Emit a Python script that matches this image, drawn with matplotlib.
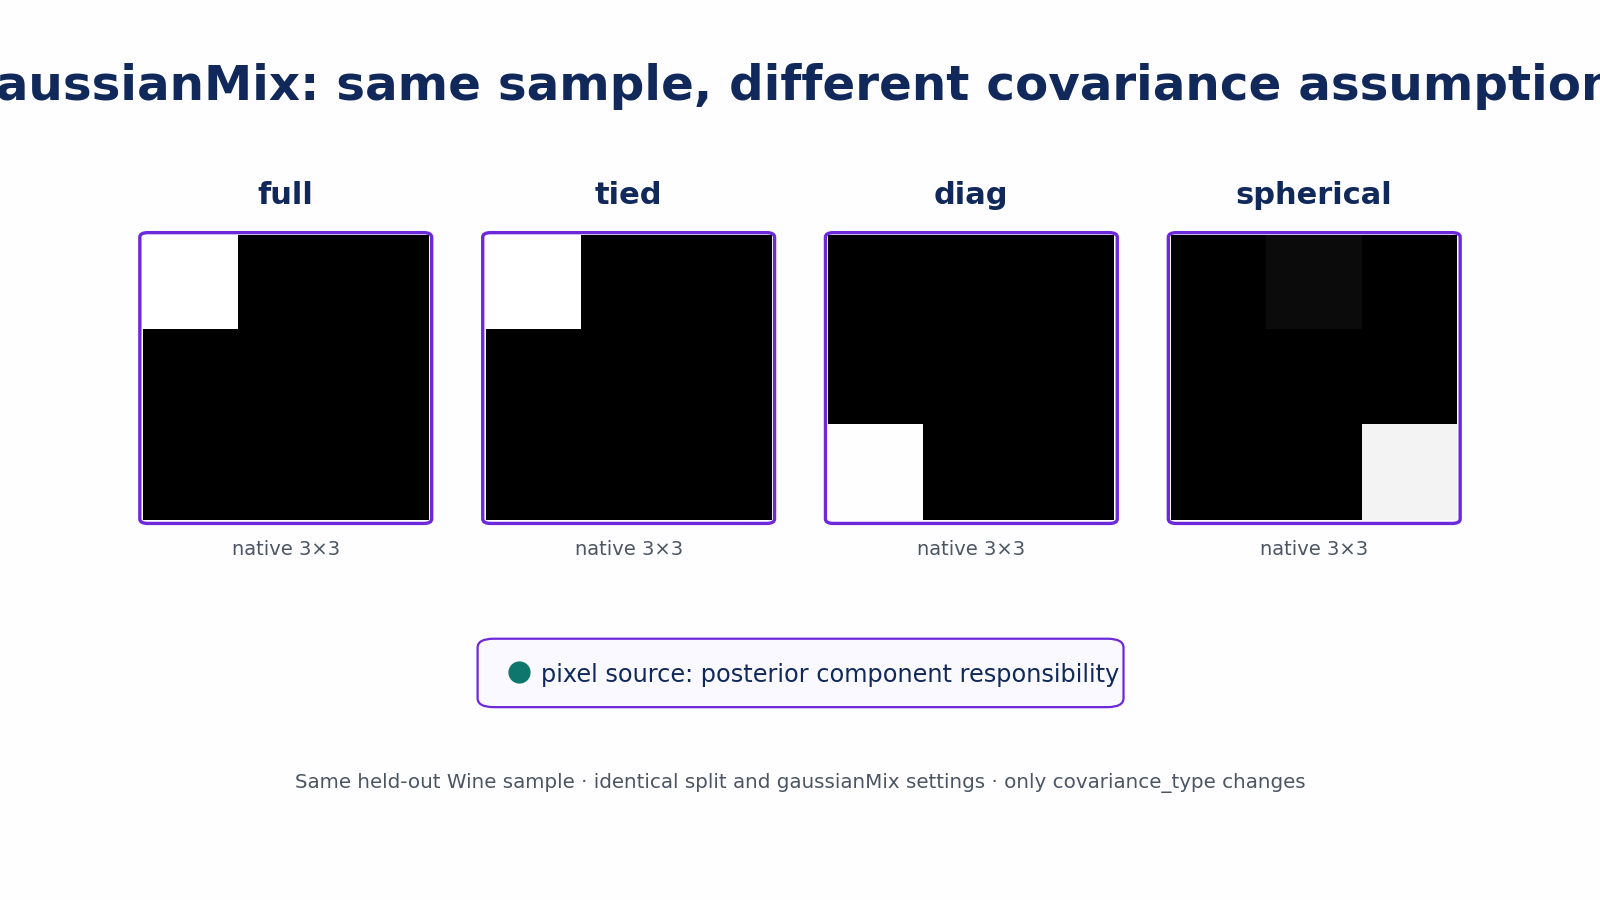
import numpy as np
import matplotlib
matplotlib.use("Agg")
import matplotlib.pyplot as plt
from matplotlib.patches import FancyBboxPatch
from matplotlib.lines import Line2D

# ---- data ----
panel_names = ["full", "tied", "diag", "spherical"]
panel_captions = ["native 3×3", "native 3×3", "native 3×3", "native 3×3"]
full_pixels = [[1.0, 0.0, 0.0], [0.0, 0.0, 0.0], [0.0, 0.0, 0.0]]
tied_pixels = [[1.0, 0.0, 0.0], [0.0, 0.0, 0.0], [0.0, 0.0, 0.0]]
diag_pixels = [[0.0, 0.0, 0.0], [0.0, 0.0, 0.0], [0.995, 0.0, 0.0]]
spherical_pixels = [[0.0, 0.043, 0.0], [0.0, 0.0, 0.0], [0.0, 0.0, 0.953]]
panel_pixels = [full_pixels, tied_pixels, diag_pixels, spherical_pixels]

title_text = "GaussianMix: same sample, different covariance assumptions"
legend_text = "pixel source: posterior component responsibility"
footer_text = "Same held-out Wine sample · identical split and gaussianMix settings · only covariance_type changes"

NAVY = "#10295a"
GRAY = "#4b5563"
PURPLE = "#6d28d9"
TEAL = "#0f766e"

fig = plt.figure(figsize=(16, 9), dpi=100)
fig.patch.set_facecolor("#fefdff")

fig.text(0.5, 0.9036, title_text, ha="center", va="center",
         fontsize=34.8, fontweight="bold", color=NAVY)

box_lefts = [0.0874, 0.3017, 0.5159, 0.7302]
box_w = 0.1824
box_bottom = 0.4184
box_h = 0.3231

for i, name in enumerate(panel_names):
    bl = box_lefts[i]
    ax = fig.add_axes([bl + 0.0019, 0.4218, 0.1786, 0.3174])
    ax.imshow(np.array(panel_pixels[i]), cmap="gray", vmin=0, vmax=1,
              interpolation="nearest", aspect="auto")
    ax.set_axis_off()
    patch = FancyBboxPatch((bl, box_bottom), box_w, box_h,
                           boxstyle="round,pad=0,rounding_size=0.005",
                           transform=fig.transFigure, fill=False,
                           edgecolor=PURPLE, linewidth=2.4, zorder=10)
    fig.add_artist(patch)
    cx = bl + box_w / 2
    fig.text(cx, 0.7823, name, ha="center", va="center",
             fontsize=22, fontweight="bold", color=NAVY)
    fig.text(cx, 0.389, panel_captions[i], ha="center", va="center",
             fontsize=14, color=GRAY)

# legend box
leg = FancyBboxPatch((0.2985, 0.2143), 0.4037, 0.0760,
                     boxstyle="round,pad=0,rounding_size=0.01",
                     transform=fig.transFigure, facecolor="#faf9ff",
                     edgecolor=PURPLE, linewidth=1.6, zorder=5)
fig.add_artist(leg)
fig.add_artist(Line2D([0.3246], [0.2528], marker="o", markersize=15,
                      color=TEAL, markeredgecolor=TEAL, linestyle="none",
                      transform=fig.transFigure, zorder=6))
fig.text(0.338, 0.2495, legend_text, ha="left", va="center",
         fontsize=17.3, color=NAVY, zorder=7)

fig.text(0.5, 0.1305, footer_text, ha="center", va="center",
         fontsize=14.35, color=GRAY)

fig.savefig("out.png", dpi=100, facecolor=fig.get_facecolor())
